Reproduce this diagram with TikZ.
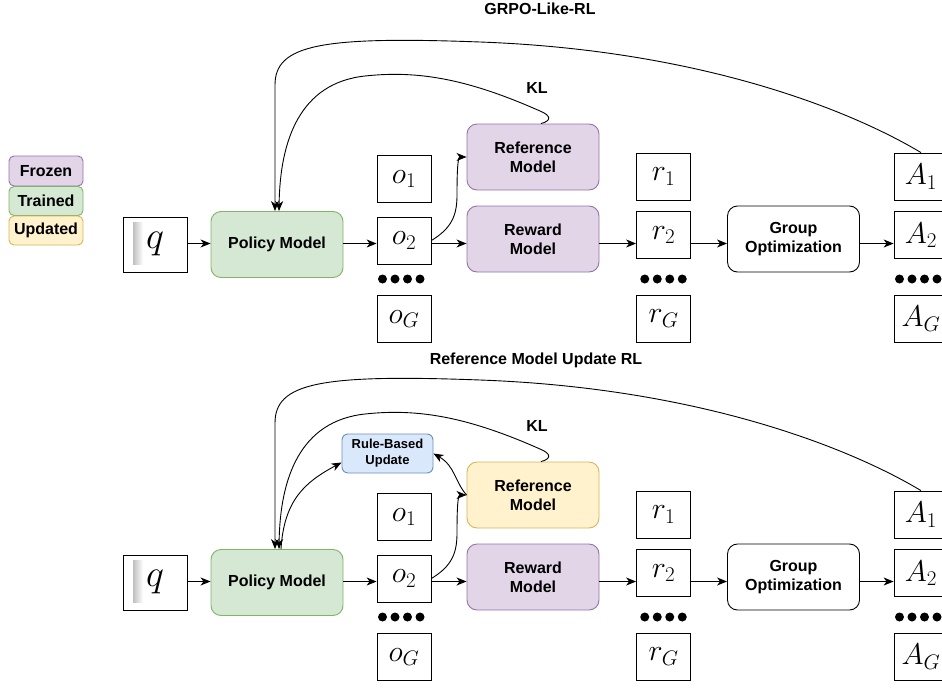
\RequirePackage{fix-cm}
\documentclass[tikz,border=0pt]{standalone}
\usepackage{fontspec}
\setmainfont{Liberation Sans}
\usetikzlibrary{arrows.meta,calc}
\definecolor{frz}{HTML}{E1D5E7}\definecolor{frzs}{HTML}{9673A6}
\definecolor{trn}{HTML}{D5E8D4}\definecolor{trns}{HTML}{82B366}
\definecolor{upd}{HTML}{FFF2CC}\definecolor{upds}{HTML}{D6B656}
\definecolor{rbf}{HTML}{DAE8FC}\definecolor{rbs}{HTML}{6C8EBF}
\tikzset{
 lbl/.style={font=\bfseries\fontsize{16}{19}\selectfont, align=center},
 model/.style={lbl, rounded corners=10pt, draw, line width=0.9pt, minimum width=132pt, minimum height=66pt, inner sep=0pt},
 frozen/.style={model, fill=frz, draw=frzs},
 trained/.style={model, fill=trn, draw=trns},
 updated/.style={model, fill=upd, draw=upds},
 plain/.style={model, fill=white, draw=black},
 rbbox/.style={draw=rbs, fill=rbf, rounded corners=6pt, line width=0.9pt, minimum width=91pt, minimum height=39pt, inner sep=0pt, align=center, font=\bfseries\fontsize{13}{16}\selectfont},
 mbox/.style={draw, line width=0.8pt, minimum width=54pt, minimum height=47pt, inner sep=0pt, font=\fontsize{30}{30}\selectfont},
 arr/.style={-{Stealth[length=10pt,width=8pt,inset=3pt]}, line width=0.9pt},
 legend/.style={lbl, draw, rounded corners=5pt, line width=0.9pt, minimum width=74pt, inner sep=0pt},
}
\newcommand\panel[3]{%
\begin{scope}[yshift=-#2pt]
 \coordinate (#1row) at (0,243.5);
 \shade[left color=black!25, right color=white] (133,222) rectangle (143,264);
 \node[mbox, minimum width=64pt, minimum height=55pt, font=\fontsize{38}{38}\selectfont] (#1q) at (155,244.5) {$q$};
 \node[trained] (#1P) at (277,244.5) {Policy Model};
 \node[mbox] (#1o1) at (404,179) {$o_1$};
 \node[mbox] (#1o2) at (404,240.5) {$o_2$};
 \node[mbox] (#1oG) at (404,319) {$o_G$};
 \node[#3] (#1Rf) at (533,157) {Reference\\Model};
 \node[frozen] (#1Rw) at (533,239) {Reward\\Model};
 \node[mbox] (#1r1) at (663.5,176.5) {$r_1$};
 \node[mbox] (#1r2) at (663.5,235) {$r_2$};
 \node[mbox] (#1rG) at (663.5,318.5) {$r_G$};
 \node[plain] (#1G) at (793.5,239) {Group\\Optimization};
 \node[mbox] (#1A1) at (921,176.5) {$A_1$};
 \node[mbox] (#1A2) at (921,235) {$A_2$};
 \node[mbox] (#1AG) at (921,318.5) {$A_G$};
 \foreach \x in {382.5,395,407.5,420} {\fill (\x,279) circle (4.5pt);}
 \foreach \x in {644.75,657.25,669.75,682.25} {\fill (\x,279) circle (4.5pt);}
 \foreach \x in {899.5,912,924.5,937} {\fill (\x,279) circle (4.5pt);}
 \draw[arr] (#1q.east |- #1row) -- (#1P.west |- #1row);
 \draw[arr] (#1P.east |- #1row) -- (#1o2.west |- #1row);
 \draw[arr] (#1o2.east |- #1row) -- (#1Rw.west |- #1row);
 \draw[arr] (#1Rw.east |- #1row) -- (#1r2.west |- #1row);
 \draw[arr] (#1r2.east |- #1row) -- (#1G.west |- #1row);
 \draw[arr] (#1G.east |- #1row) -- (#1A2.west |- #1row);
 \draw[arr] (#1o2.east) .. controls (452,228) and (457,215) .. (457,195) .. controls (457,168) and (458,157) .. (#1Rf.west);
 \draw[arr] (#1A1.north) .. controls (850,110) and (700,50) .. (480,42) .. controls (320,36) and (275,45) .. (275,85) -- ([xshift=-2pt]#1P.north);
 \draw[arr] ([xshift=8pt]#1Rf.north) .. controls (551,121) and (552,116) .. (540,111) .. controls (470,80) and (420,70) .. (365,76) .. controls (300,83) and (280,140) .. ([xshift=2pt]#1P.north);
 \node[lbl] (#1KL) at (537,88) {KL};
\end{scope}}
\begin{document}
\begin{tikzpicture}[x=1pt,y=-1pt]
\useasboundingbox (0,0) rectangle (942,688);
\node[lbl] (t1) at (540,9) {GRPO-Like-RL};
\node[lbl] (t2) at (536,360) {Reference Model Update RL};
\node[legend, fill=frz, draw=frzs, minimum height=30pt] (lf) at (46,171) {Frozen};
\node[legend, fill=trn, draw=trns, minimum height=29pt] (lt) at (46,201) {Trained};
\node[legend, fill=upd, draw=upds, minimum height=29pt] (lu) at (46,230.5) {Updated};
\panel{t}{0}{frozen}
\panel{b}{338}{updated}
\node[rbbox] (bRB) at (387.5,453.5) {Rule-Based\\Update};
\draw[arr] ([xshift=4pt]bP.north) .. controls (284,500) and (305,482) .. ([yshift=-9pt]bRB.west);
\draw[arr] (bRf.west) .. controls (455,482) and (455,466) .. (bRB.east);
\end{tikzpicture}
\end{document}
